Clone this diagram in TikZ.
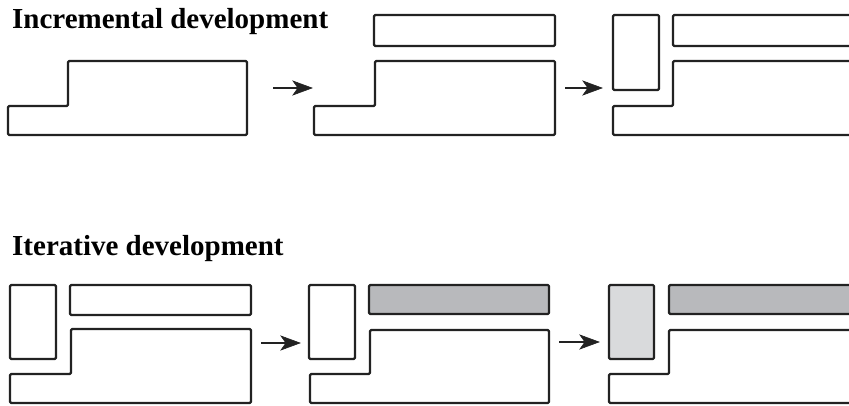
\documentclass[tikz,border=0pt]{standalone}
\usepackage{fontspec}
\setmainfont{Liberation Serif}
\usetikzlibrary{calc}
\definecolor{darkpart}{HTML}{B8B9BC}
\definecolor{lightpart}{HTML}{D9DADC}
\definecolor{edge}{HTML}{222222}
\tikzset{
  part/.style={draw=edge,line width=2.2pt,rounded corners=1.2pt},
  shaft/.style={draw=edge,line width=2.4pt},
  head/.style={fill=edge,draw=edge,line width=0.6pt,line join=miter},
  heading/.style={anchor=base west,inner sep=0pt,font=\fontsize{29}{32}\selectfont\bfseries}}
\newcommand{\connect}[2]{%
  \draw[shaft] (#1) -- ($(#2)+(-12,0)$);
  \filldraw[head] (#2) -- ($(#2)+(-19,-7)$) -- ($(#2)+(-14,0)$) -- ($(#2)+(-19,7)$) -- cycle;}
\begin{document}
\begin{tikzpicture}[x=1pt,y=-1pt,line join=round]
\useasboundingbox (0,0) rectangle (849,406);
\clip (0,0) rectangle (849,406);
\fill[white] (0,0) rectangle (849,406);

\node[heading] (inc) at (12,29) {Incremental development};
\node[heading] (ite) at (12,256) {Iterative development};

% ---- top row
\draw[part] (8,106) -- (68,106) -- (68,61) -- (247,61) -- (247,135) -- (8,135) -- cycle;
\coordinate (a1s) at (273,88); \coordinate (a1e) at (312,88);
\connect{a1s}{a1e}

\draw[part] (374,15) rectangle (555,46);
\draw[part] (314,106) -- (375,106) -- (375,61) -- (555,61) -- (555,135) -- (314,135) -- cycle;
\coordinate (a2s) at (565,88); \coordinate (a2e) at (602,88);
\connect{a2s}{a2e}

\draw[part] (613,15) rectangle (659,90);
\draw[part] (673,15) rectangle (870,46);
\draw[part] (613,106) -- (673,106) -- (673,61) -- (870,61) -- (870,135) -- (613,135) -- cycle;

% ---- bottom row
\draw[part] (10,285) rectangle (56,359);
\draw[part] (70,285) rectangle (251,315);
\draw[part] (10,374) -- (71,374) -- (71,329) -- (251,329) -- (251,403) -- (10,403) -- cycle;
\coordinate (b1s) at (261,343); \coordinate (b1e) at (300,343);
\connect{b1s}{b1e}

\draw[part] (309,285) rectangle (355,359);
\draw[part,fill=darkpart] (369,285) rectangle (549,314);
\draw[part] (310,374) -- (370,374) -- (370,330) -- (549,330) -- (549,403) -- (310,403) -- cycle;
\coordinate (b2s) at (559,342); \coordinate (b2e) at (599,342);
\connect{b2s}{b2e}

\draw[part,fill=lightpart] (609,285) rectangle (654,359);
\draw[part,fill=darkpart] (669,285) rectangle (870,314);
\draw[part] (609,374) -- (669,374) -- (669,330) -- (870,330) -- (870,403) -- (609,403) -- cycle;
\end{tikzpicture}
\end{document}
